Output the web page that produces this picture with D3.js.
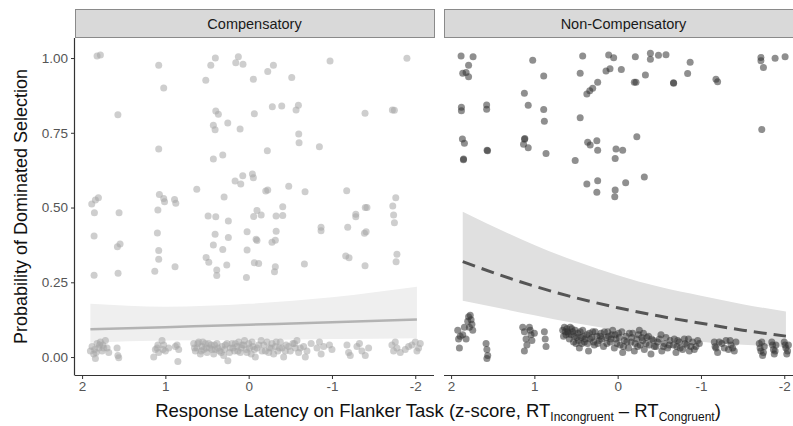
<!DOCTYPE html>
<html>
<head>
<meta charset="utf-8">
<script src="https://cdn.jsdelivr.net/npm/d3@7"></script>
<style>
  body { margin: 0; background: #fff; }
  svg { display: block; font-family: "Liberation Sans", Arial, sans-serif; }
</style>
</head>
<body>
<div id="chart"></div>
<script>
// facets
var panels = ["Compensatory", "Non-Compensatory"];
var xTicks = [2, 1, 0, -1, -2];
var yTicks = [0, 0.25, 0.5, 0.75, 1];
var yTickLabels = ["0.00", "0.25", "0.50", "0.75", "1.00"];

// jittered observations, [z-score, proportion]
var compPoints = [
  [1.82,1.007],[1.78,1.01],[1.08,0.976],[1.02,0.90],[1.57,0.81],[1.08,0.696],
  [0.40,1.00],[0.455,0.976],[0.515,0.926],[0.124,1.004],[0.155,0.984],[0.068,0.979],
  [-0.056,0.929],[-0.229,0.955],[-0.297,0.976],[-0.517,0.935],[-0.977,0.99],[-1.90,0.999],
  [0.395,0.823],[0.364,0.812],[0.424,0.775],[0.403,0.76],[0.251,0.783],[0.103,0.763],
  [-0.068,0.814],[-0.284,0.837],[-0.397,0.84],[-0.569,0.826],[-0.597,0.842],[-0.601,0.746],
  [-0.605,0.717],[-0.849,0.703],[-0.224,0.69],[0.424,0.662],[0.311,0.676],[-1.397,0.815],
  [-1.725,0.826],[-1.749,0.825],[0.071,0.606],[-0.045,0.612],[-0.056,0.60],[0.163,0.589],
  [0.095,0.579],[0.623,0.561],[-0.205,0.555],[-0.229,0.559],[-0.481,0.571],[-0.677,0.553],
  [-1.177,0.556],[1.804,0.533],[1.072,0.544],[1.02,0.53],[0.89,0.527],[0.295,0.535],[-1.766,0.533],
  [1.884,0.512],[1.84,0.525],[1.852,0.483],[1.856,0.405],[1.856,0.274],[1.556,0.483],
  [1.576,0.369],[1.544,0.378],[1.568,0.28],[1.09,0.492],[1.01,0.519],[0.875,0.514],
  [1.096,0.415],[1.08,0.356],[1.08,0.327],[1.127,0.287],[0.884,0.302],[0.487,0.472],
  [0.395,0.469],[0.403,0.411],[0.244,0.455],[0.244,0.40],[0.424,0.375],[0.311,0.36],
  [0.511,0.333],[0.479,0.317],[0.383,0.291],[0.383,0.273],[0.263,0.308],[0.019,0.419],
  [0.019,0.358],[0.027,0.266],[-0.06,0.47],[-0.1,0.49],[-0.15,0.475],[-0.089,0.394],
  [-0.1,0.39],[-0.068,0.315],[-0.12,0.313],[-0.33,0.421],[-0.32,0.391],[-0.28,0.384],
  [-0.329,0.472],[-0.409,0.473],[-0.409,0.503],[-0.32,0.302],[-0.31,0.285],[-0.669,0.311],
  [-0.869,0.434],[-0.869,0.422],[-1.189,0.434],[-1.286,0.478],[-1.286,0.469],[-1.40,0.50],
  [-1.42,0.50],[-1.39,0.414],[-1.41,0.419],[-1.165,0.338],[-1.205,0.332],[-1.397,0.305],
  [-1.73,0.505],[-1.74,0.475],[-1.75,0.449],[-1.78,0.344],[-1.77,0.319],
  // bottom band
  [1.90,0.02],[1.88,0.035],[1.86,0.01],[1.84,-0.005],[1.82,0.045],[1.80,0.03],[1.78,0.05],
  [1.76,0.02],[1.75,0.04],[1.72,0.055],[1.70,0.03],[1.68,0.015],[1.85,0.025],
  [1.83,0.015],[1.79,0.04],[1.74,0.03],
  [1.58,0.03],[1.57,0.005],[1.56,-0.002],
  [1.14,0.0],[1.12,0.025],[1.10,0.03],[1.08,0.015],[1.04,0.055],[1.02,0.04],[1.0,0.02],
  [0.96,0.03],[0.86,0.04],[0.85,-0.015],[0.84,0.025],[0.88,0.035],[1.09,0.04],[1.03,0.025],
  [0.66,0.045],[0.64,0.02],[0.62,0.03],[0.60,0.05],[0.58,0.01],[0.56,0.035],[0.54,0.025],
  [0.52,0.045],[0.50,0.015],[0.47,0.03],[0.45,0.04],[0.42,0.01],[0.40,0.025],[0.38,0.045],
  [0.35,0.02],[0.32,0.035],[0.30,0.005],[0.28,0.04],[0.25,-0.012],[0.22,0.03],[0.20,0.045],
  [0.17,0.02],[0.14,0.035],[0.12,0.05],[0.10,0.015],[0.08,0.04],[0.05,0.055],[0.03,0.025],
  [0.0,0.045],[-0.03,0.01],[-0.05,0.035],[-0.08,0.0],[-0.1,0.03],[-0.15,0.055],[-0.18,0.04],
  [-0.2,0.02],[-0.22,0.05],[-0.25,0.03],[-0.28,0.045],[-0.3,0.01],[-0.32,0.035],[-0.35,0.02],
  [-0.38,0.05],[-0.4,0.03],[-0.42,0.0],[-0.45,0.04],[-0.5,0.02],[-0.53,0.045],[-0.56,0.03],
  [-0.58,0.055],[-0.6,0.015],
  [0.65,0.03],[0.61,0.045],[0.57,0.02],[0.55,0.05],[0.51,0.03],[0.48,0.045],[0.44,0.025],
  [0.41,0.04],[0.37,0.03],[0.33,0.015],[0.29,0.025],[0.26,0.045],[0.23,0.015],[0.19,0.03],
  [0.16,0.045],[0.13,0.02],[0.09,0.03],[0.06,0.04],[0.02,0.015],[-0.01,0.03],[-0.04,0.05],
  [-0.07,0.025],[-0.12,0.04],[-0.16,0.02],[-0.24,0.015],[-0.27,0.03],[-0.33,0.05],[-0.37,0.03],
  [-0.44,0.02],[-0.48,0.035],[-0.55,0.045],[-0.62,0.03],
  [-0.66,0.035],[-0.68,0.0],[-0.7,0.02],[-0.75,0.045],[-0.82,0.03],[-0.85,0.05],[-0.87,0.01],
  [-0.9,0.035],[-0.97,0.04],[-1.0,0.025],
  [-1.18,0.04],[-1.2,0.015],[-1.22,0.005],[-1.3,0.035],[-1.33,0.045],[-1.36,0.02],[-1.4,0.005],[-1.44,0.03],
  [-1.72,0.04],[-1.74,0.02],[-1.76,0.05],[-1.78,0.03],[-1.82,0.015],[-1.88,0.025],[-1.92,0.035],
  [-1.96,0.04],[-2.0,0.05],[-2.02,0.02],[-2.04,0.03],[-2.06,0.045]
];

var nonPoints = [
  [1.88,1.007],[1.736,1.004],[1.79,0.976],[1.86,0.949],[1.82,0.952],[1.79,0.937],
  [1.02,0.993],[0.888,0.94],[1.12,0.882],[1.074,0.842],[0.888,0.828],[0.88,0.789],
  [1.876,0.835],[1.876,0.824],[1.573,0.843],[1.573,0.829],[1.864,0.729],[1.84,0.715],
  [1.568,0.692],[1.562,0.69],[1.85,0.662],[1.852,0.66],[1.115,0.731],[1.118,0.728],[1.13,0.712],[1.074,0.70],
  [0.86,0.681],[0.42,1.007],[0.45,0.949],[0.108,1.01],[0.048,1.001],[0.14,0.957],
  [0.092,0.964],[-0.044,0.962],[-0.212,1.004],[-0.393,1.016],[-0.393,0.996],[-0.49,1.009],
  [-0.58,1.011],[-0.87,0.986],[-0.84,0.948],[-0.333,0.943],[-0.2,0.919],[-0.22,0.919],
  [-0.67,0.917],[-0.672,0.916],[-1.18,0.929],[-1.2,0.921],[0.24,0.919],[0.30,0.899],
  [0.335,0.891],[0.37,0.88],[0.45,0.80],[-1.72,1.002],[-1.72,0.991],[-1.75,0.968],
  [-1.89,0.999],[-2.01,1.004],[-1.73,0.761],[0.36,0.718],[0.33,0.709],[0.25,0.723],
  [0.24,0.692],[0.02,0.696],[-0.06,0.692],[0.03,0.664],[-0.23,0.737],[0.51,0.657],
  [0.37,0.579],[0.24,0.59],[0.25,0.551],[0.03,0.559],[0.035,0.536],[-0.096,0.583],[-0.32,0.602],
  // bottom band
  [1.92,0.09],[1.91,0.06],[1.89,0.07],[1.9,0.03],[1.86,0.075],[1.84,0.1],[1.8,0.12],
  [1.79,0.135],[1.78,0.1],[1.77,0.14],[1.76,0.125],[1.75,0.11],[1.74,0.09],[1.82,0.06],
  [1.58,0.045],[1.57,0.025],[1.56,0.005],[1.57,-0.005],
  [1.14,0.1],[1.12,0.085],[1.1,0.06],[1.09,0.04],[1.12,0.02],[1.06,0.1],[1.04,0.075],
  [1.03,0.055],[1.05,0.09],[1.0,0.08],[0.88,0.085],[0.87,0.06],[0.86,0.035],
  [0.66,0.09],[0.64,0.1],[0.62,0.075],[0.6,0.085],[0.58,0.06],[0.55,0.095],[0.52,0.07],
  [0.5,0.045],[0.48,0.08],[0.46,0.03],[0.44,0.065],[0.42,0.09],[0.4,0.05],[0.37,0.075],
  [0.35,0.02],[0.33,0.06],[0.3,0.085],[0.28,0.04],[0.25,0.07],[0.22,0.055],[0.2,0.08],
  [0.17,0.035],[0.14,0.065],[0.12,0.085],[0.09,0.05],[0.07,0.075],[0.04,0.03],[0.02,0.06],
  [-0.01,0.08],[-0.03,0.04],[-0.06,0.015],[-0.08,0.055],[-0.1,0.07],[-0.13,0.03],[-0.16,0.05],
  [-0.18,0.08],[-0.2,0.02],[-0.23,0.06],[-0.25,0.075],[-0.27,0.04],[-0.3,0.055],[-0.32,0.025],
  [-0.35,0.065],[-0.38,0.04],[-0.4,0.01],[-0.43,0.055],[-0.46,0.035],[-0.5,0.06],[-0.53,0.02],
  [-0.56,0.045],[-0.6,0.03],[-0.63,0.055],
  [0.65,0.07],[0.63,0.085],[0.61,0.095],[0.59,0.08],[0.57,0.1],[0.56,0.075],[0.54,0.085],
  [0.53,0.05],[0.51,0.09],[0.49,0.065],[0.47,0.055],[0.45,0.085],[0.43,0.045],[0.41,0.07],
  [0.39,0.06],[0.36,0.045],[0.34,0.08],[0.31,0.065],[0.29,0.05],[0.27,0.085],[0.24,0.045],
  [0.21,0.07],[0.19,0.06],[0.16,0.085],[0.13,0.045],[0.11,0.07],[0.08,0.06],[0.06,0.09],
  [0.03,0.075],[0.01,0.045],[-0.02,0.065],[-0.05,0.085],[-0.07,0.035],[-0.11,0.05],[-0.14,0.08],
  [-0.17,0.065],[-0.21,0.045],[-0.24,0.035],[-0.26,0.09],[-0.29,0.065],[-0.31,0.08],[-0.34,0.045],
  [-0.37,0.07],[-0.41,0.06],[-0.44,0.035],[-0.48,0.05],[-0.52,0.075],[-0.55,0.035],[-0.58,0.065],[-0.62,0.04],
  [-0.67,0.04],[-0.7,0.015],[-0.72,0.055],[-0.75,0.03],[-0.8,0.06],[-0.83,0.04],[-0.86,0.02],
  [-0.9,0.05],[-0.94,0.035],[-0.98,0.045],
  [-0.68,0.06],[-0.71,0.035],[-0.74,0.05],[-0.78,0.025],[-0.81,0.045],[-0.85,0.06],[-0.88,0.035],
  [-0.92,0.025],[-0.96,0.055],
  [-1.16,0.05],[-1.18,0.03],[-1.2,0.015],[-1.25,0.045],[-1.3,0.055],[-1.33,0.025],[-1.36,0.04],
  [-1.4,0.02],[-1.42,0.05],[-1.17,0.035],[-1.22,0.05],[-1.28,0.03],[-1.35,0.055],[-1.38,0.03],
  [-1.7,0.045],[-1.72,0.02],[-1.74,0.005],[-1.76,0.035],[-1.85,0.05],[-1.87,0.025],[-1.88,0.01],
  [-1.9,0.04],[-2.0,0.05],[-2.02,0.03],[-2.03,0.01],[-2.05,0.04],
  [-1.71,0.03],[-1.73,0.05],[-1.75,0.015],[-1.86,0.04],[-1.89,0.02],[-2.01,0.04],[-2.04,0.02]
];

// logistic fit: [z, fit, lower, upper]
var compFit = [
  [1.9,0.093,0.048,0.178],[1.0,0.100,0.055,0.168],[0.0,0.108,0.057,0.178],
  [-1.0,0.116,0.060,0.200],[-2.02,0.126,0.063,0.235]
];
var nonFit = [
  [1.86,0.319,0.188,0.486],[1.0,0.237,0.140,0.375],[0.5,0.198,0.113,0.320],
  [0.0,0.165,0.090,0.274],[-0.5,0.137,0.069,0.235],[-1.0,0.113,0.051,0.205],
  [-1.5,0.090,0.041,0.177],[-2.02,0.070,0.034,0.152]
];

chart("#chart");

function chart(id) {
	var width = 793, height = 426;
	var top = 38, bottom = 375;
	var panelW = 359;
	var lefts = [75, 444];

	var svg = d3.select(id).append("svg")
		.attr("width", width)
		.attr("height", height);

	svg.append("rect").attr("width", width).attr("height", height).attr("fill", "#fff");

	var y = d3.scaleLinear().domain([-0.06, 1.067]).range([bottom, top]);

	var styles = [
		{ pts: compPoints, fit: compFit, dot: "#a6a6a6", band: "#efefef", line: "#b3b3b3", dash: null },
		{ pts: nonPoints, fit: nonFit, dot: "#333333", band: "#e0e0e0", line: "#555555", dash: "13,7" }
	];

	panels.forEach(function(name, i) {
		var x0 = lefts[i];
		var x = d3.scaleLinear().domain([2.085, -2.225]).range([x0, x0 + panelW]);
		var s = styles[i];
		var g = svg.append("g");

		// strip
		g.append("rect")
			.attr("x", x0 + 0.5).attr("y", 9.5)
			.attr("width", panelW).attr("height", 28)
			.attr("fill", "#d9d9d9")
			.attr("stroke", "#8a8a8a")
			.attr("stroke-width", 1);
		g.append("text")
			.attr("x", x0 + panelW / 2).attr("y", 29)
			.attr("text-anchor", "middle")
			.attr("fill", "#1a1a1a")
			.style("font-size", "14.5px")
			.text(name);

		// ribbon + fit
		var area = d3.area()
			.x(function(d) { return x(d[0]); })
			.y0(function(d) { return y(d[2]); })
			.y1(function(d) { return y(d[3]); })
			.curve(d3.curveMonotoneX);
		g.append("path").datum(s.fit)
			.attr("d", area)
			.attr("fill", s.band);

		var line = d3.line()
			.x(function(d) { return x(d[0]); })
			.y(function(d) { return y(d[1]); })
			.curve(d3.curveMonotoneX);
		g.append("path").datum(s.fit)
			.attr("d", line)
			.attr("fill", "none")
			.attr("stroke", s.line)
			.attr("stroke-width", i == 0 ? 2.5 : 3)
			.attr("stroke-dasharray", s.dash);

		// points
		g.selectAll("circle.pt").data(s.pts).enter().append("circle")
			.attr("class", "pt")
			.attr("cx", function(d) { return x(d[0]); })
			.attr("cy", function(d) { return y(d[1]); })
			.attr("r", 3.5)
			.attr("fill", s.dot)
			.attr("fill-opacity", 0.55);

		// bottom axis
		var xAxis = d3.axisBottom(x).tickValues(xTicks).tickSize(4).tickPadding(2)
			.tickFormat(d3.format("d"));
		var ax = g.append("g")
			.attr("transform", "translate(0," + bottom + ")")
			.call(xAxis);
		ax.select(".domain").attr("stroke", "#333").attr("stroke-width", 1.2)
			.attr("d", "M" + x0 + ",0.5H" + (x0 + panelW));
		ax.selectAll(".tick line").attr("stroke", "#333");
		ax.selectAll(".tick text")
			.attr("fill", "#555")
			.style("font-size", "13.5px")
			.style("font-family", "Liberation Sans, Arial, sans-serif")
			.text(function(d) { return d < 0 ? "-" + (-d) : d; });

		if (i == 0) {
			var yAxis = d3.axisLeft(y).tickValues(yTicks).tickSize(4).tickPadding(3)
				.tickFormat(function(d, j) { return yTickLabels[j]; });
			var ay = g.append("g")
				.attr("transform", "translate(" + x0 + ",0)")
				.call(yAxis);
			ay.select(".domain").attr("stroke", "#333").attr("stroke-width", 1.2)
				.attr("d", "M-0.5," + top + "V" + (bottom + 0.5));
			ay.selectAll(".tick line").attr("stroke", "#333");
			ay.selectAll(".tick text")
				.attr("fill", "#555")
				.style("font-size", "13.5px")
				.style("font-family", "Liberation Sans, Arial, sans-serif");
		}
	});

	// axis titles
	svg.append("text")
		.attr("transform", "translate(27," + ((top + bottom) / 2) + ") rotate(-90)")
		.attr("text-anchor", "middle")
		.attr("fill", "#111")
		.style("font-size", "18px")
		.text("Probability of Dominated Selection");

	var xt = svg.append("text")
		.attr("x", 438).attr("y", 417)
		.attr("text-anchor", "middle")
		.attr("fill", "#111")
		.style("font-size", "18.5px");
	xt.append("tspan").text("Response Latency on Flanker Task (z-score, RT");
	xt.append("tspan").attr("dy", 4).style("font-size", "12px").text("Incongruent");
	xt.append("tspan").attr("dy", -4).text(" \u2013 RT");
	xt.append("tspan").attr("dy", 4).style("font-size", "12px").text("Congruent");
	xt.append("tspan").attr("dy", -4).text(")");
}
</script>
</body>
</html>
